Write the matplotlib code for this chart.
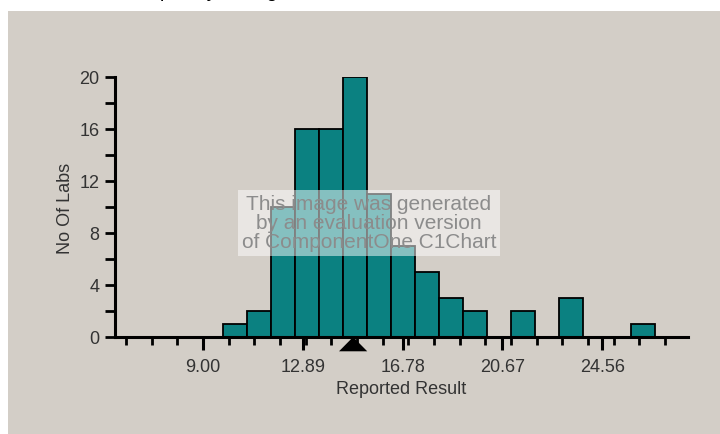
import matplotlib
matplotlib.use('Agg')
import matplotlib.pyplot as plt
from matplotlib.patches import Rectangle, Polygon

# histogram data
bin_start = 9.78
bin_width = 0.936
counts = [1, 2, 10, 16, 16, 20, 11, 7, 5, 3, 2, 0, 2, 0, 3, 0, 0, 1]
xtick_vals = [9.00, 12.89, 16.78, 20.67, 24.56]
xtick_labels = ['9.00', '12.89', '16.78', '20.67', '24.56']
minor_x = list(range(6, 28))
yticks = [0, 4, 8, 12, 16, 20]
ymin_ticks = [2, 6, 10, 14, 18]
marker_x = 14.85

plt.rcParams['font.family'] = ['Liberation Sans', 'DejaVu Sans']
bg = '#d3cec7'
txt = '#333333'

fig = plt.figure(figsize=(7.2, 4.35), dpi=100)
fig.patch.set_facecolor('white')
fig.add_artist(Rectangle((8 / 720, 0), 1, 1 - 12 / 435, transform=fig.transFigure,
                         facecolor=bg, edgecolor='none', zorder=-10))
# title, cut off by the top edge as in the original (only descenders show)
fig.text(218 / 720, 1.0 - 0.8 / 435, 'Frequency Histogram', ha='center', va='bottom',
         fontsize=14, color='black')

ax = fig.add_axes([115 / 720, 1 - 338 / 435, (688 - 115) / 720, (338 - 78) / 435])
ax.patch.set_alpha(0)

lefts = [bin_start + i * bin_width for i in range(len(counts))]
ax.bar(lefts, counts, width=bin_width, align='edge', color='#0b8181',
       edgecolor='black', linewidth=1.3, zorder=3)

ax.set_xlim(5.57, 27.9)
ax.set_ylim(0, 20)
for s in ['top', 'right']:
    ax.spines[s].set_visible(False)
for s in ['left', 'bottom']:
    ax.spines[s].set_linewidth(2.2)
    ax.spines[s].set_zorder(4)

ax.set_xticks(xtick_vals)
ax.set_xticklabels(xtick_labels)
ax.set_xticks(minor_x, minor=True)
ax.set_yticks(yticks)
ax.set_yticks(ymin_ticks, minor=True)
ax.tick_params(axis='x', which='major', length=9, width=2.2, color='black',
               labelsize=13, labelcolor=txt, pad=6)
ax.tick_params(axis='x', which='minor', length=6, width=2, color='black')
ax.tick_params(axis='y', which='major', length=7, width=2, color='black',
               labelsize=13, labelcolor=txt, pad=4)
ax.tick_params(axis='y', which='minor', length=7, width=2, color='black')

ax.set_xlabel('Reported Result', fontsize=13, color=txt, labelpad=4)
ax.set_ylabel('No Of Labs', fontsize=13, color=txt, labelpad=4)

# assigned value marker: triangle just under the axis, tip touching it
tri = Polygon([(marker_x - 0.55, -0.055), (marker_x + 0.55, -0.055), (marker_x, 0.0)],
              closed=True, facecolor='black', edgecolor='none',
              transform=ax.get_xaxis_transform(), clip_on=False, zorder=5)
ax.add_patch(tri)

# evaluation watermark
fig.text(369 / 720, 1 - 224 / 435,
         'This image was generated\nby an evaluation version\nof ComponentOne C1Chart',
         ha='center', va='center', fontsize=15, color='#8c8c8c', linespacing=1.0,
         bbox=dict(boxstyle='square,pad=0.2', facecolor='white', alpha=0.5,
                   edgecolor='none'), zorder=10)

fig.savefig('out.png', dpi=100, facecolor=fig.get_facecolor())
